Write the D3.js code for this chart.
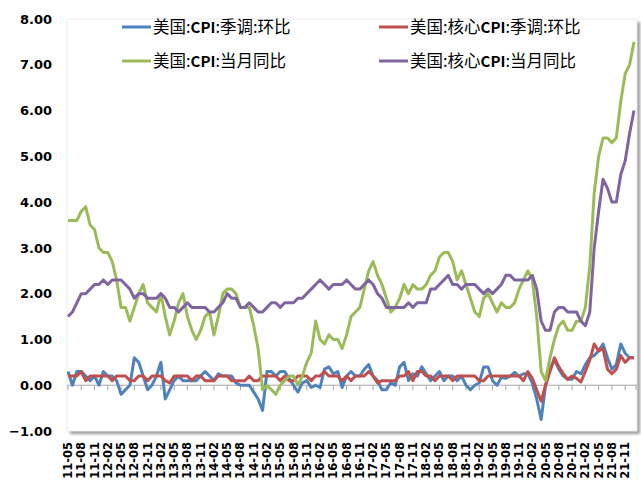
<!DOCTYPE html>
<html lang="zh">
<head>
<meta charset="UTF-8">
<script src="https://d3js.org/d3.v7.min.js"></script>
<style>
  body { margin: 0; background: #fff; }
  svg { display: block; }
  .ylab { font: bold 13px "DejaVu Sans", sans-serif; fill: #000; }
  .xlab { font: bold 11.5px "DejaVu Sans", sans-serif; fill: #000; }
  .leg { font-family: "Noto Sans CJK SC", sans-serif; font-size: 16.5px; fill: #000; }
  .leg .latin { font-weight: bold; font-size: 15px; }
</style>
</head>
<body>
<div id="chart"></div>
<script>
// monthly categories 2011-05 .. 2022-01
var months = d3.timeMonth.range(new Date(2011, 4, 1), new Date(2022, 1, 1)).map(d3.timeFormat("%y-%m"));

// 美国:CPI:季调:环比
var cpiMom = [
  0.3, 0.0, 0.3, 0.3, 0.2, 0.1, 0.2, 0.0,
  0.3, 0.2, 0.2, 0.1, -0.2, -0.1, 0.0, 0.6, 0.5, 0.2, -0.1, 0.0,
  0.2, 0.5, -0.3, -0.1, 0.1, 0.2, 0.1, 0.1, 0.1, 0.1, 0.2, 0.3,
  0.2, 0.1, 0.25, 0.2, 0.2, 0.2, 0.05, 0.0, 0.0, 0.0, -0.15, -0.3,
  -0.55, 0.3, 0.3, 0.2, 0.3, 0.3, 0.15, 0.0, -0.15, 0.05, 0.1, -0.05,
  0.0, -0.05, 0.35, 0.4, 0.25, 0.3, -0.05, 0.2, 0.3, 0.2, 0.2, 0.35,
  0.45, 0.2, 0.1, -0.1, -0.1, 0.05, 0.0, 0.4, 0.5, 0.1, 0.25, 0.2,
  0.4, 0.25, 0.1, 0.2, 0.3, 0.1, 0.2, 0.2, 0.1, 0.2, 0.0, -0.1,
  0.0, 0.05, 0.4, 0.4, 0.1, 0.0, 0.17, 0.15, 0.2, 0.28, 0.2, 0.25,
  0.25, 0.05, -0.3, -0.75, 0.0, 0.35, 0.55, 0.35, 0.2, 0.13, 0.13, 0.3,
  0.25, 0.45, 0.6, 0.65, 0.75, 0.9, 0.6, 0.35, 0.45, 0.9, 0.7, 0.6,
  0.6
];

// 美国:核心CPI:季调:环比
var coreMom = [
  0.2, 0.2, 0.2, 0.3, 0.1, 0.2, 0.2, 0.2,
  0.2, 0.2, 0.1, 0.2, 0.2, 0.2, 0.1, 0.1, 0.2, 0.2, 0.1, 0.2,
  0.2, 0.2, 0.1, 0.05, 0.2, 0.2, 0.2, 0.2, 0.1, 0.2, 0.2, 0.1,
  0.1, 0.1, 0.2, 0.2, 0.2, 0.1, 0.1, 0.1, 0.1, 0.2, 0.1, 0.1,
  0.2, 0.2, 0.2, 0.2, 0.1, 0.2, 0.1, 0.1, 0.2, 0.2, 0.2, 0.1,
  0.2, 0.2, 0.3, 0.2, 0.2, 0.2, 0.1, 0.2, 0.1, 0.2, 0.2, 0.2,
  0.3, 0.2, 0.05, 0.1, 0.1, 0.1, 0.1, 0.2, 0.2, 0.3, 0.1, 0.3,
  0.3, 0.2, 0.2, 0.1, 0.2, 0.2, 0.2, 0.1, 0.2, 0.2, 0.2, 0.2,
  0.2, 0.1, 0.1, 0.2, 0.2, 0.2, 0.2, 0.2, 0.2, 0.2, 0.2, 0.1,
  0.3, 0.15, -0.1, -0.35, 0.0, 0.3, 0.6, 0.4, 0.25, 0.13, 0.2, 0.15,
  0.07, 0.3, 0.55, 0.9, 0.75, 0.8, 0.35, 0.25, 0.35, 0.65, 0.5, 0.6,
  0.6
];

// 美国:CPI:当月同比
var cpiYoy = [
  3.6, 3.6, 3.6, 3.8, 3.9, 3.5, 3.4, 3.0,
  2.9, 2.9, 2.7, 2.3, 1.7, 1.7, 1.4, 1.7, 2.0, 2.2, 1.8, 1.7,
  1.6, 2.0, 1.5, 1.1, 1.4, 1.8, 2.0, 1.5, 1.2, 1.0, 1.2, 1.5,
  1.6, 1.1, 1.5, 2.0, 2.1, 2.1, 2.0, 1.7, 1.7, 1.7, 1.3, 0.8,
  -0.1, 0.0, -0.1, -0.2, 0.0, 0.1, 0.2, 0.2, 0.0, 0.2, 0.5, 0.7,
  1.4, 1.0, 0.9, 1.1, 1.0, 1.0, 0.8, 1.1, 1.5, 1.6, 1.7, 2.1,
  2.5, 2.7, 2.4, 2.2, 1.9, 1.6, 1.7, 1.9, 2.2, 2.0, 2.2, 2.1,
  2.1, 2.2, 2.4, 2.5, 2.8, 2.9, 2.9, 2.7, 2.3, 2.5, 2.2, 1.9,
  1.6, 1.5, 1.9, 2.0, 1.8, 1.6, 1.8, 1.7, 1.7, 1.8, 2.1, 2.3,
  2.5, 2.3, 1.5, 0.3, 0.1, 0.6, 1.0, 1.3, 1.4, 1.2, 1.2, 1.4,
  1.4, 1.7, 2.6, 4.2, 5.0, 5.4, 5.4, 5.3, 5.4, 6.2, 6.8, 7.0,
  7.5
];

// 美国:核心CPI:当月同比
var coreYoy = [
  1.5, 1.6, 1.8, 2.0, 2.0, 2.1, 2.2, 2.2,
  2.3, 2.2, 2.3, 2.3, 2.3, 2.2, 2.1, 1.9, 2.0, 2.0, 1.9, 1.9,
  1.9, 2.0, 1.9, 1.7, 1.7, 1.6, 1.7, 1.8, 1.7, 1.7, 1.7, 1.7,
  1.6, 1.6, 1.7, 1.8, 2.0, 1.9, 1.9, 1.7, 1.7, 1.8, 1.7, 1.6,
  1.6, 1.7, 1.8, 1.8, 1.7, 1.8, 1.8, 1.8, 1.9, 1.9, 2.0, 2.1,
  2.2, 2.3, 2.2, 2.1, 2.2, 2.2, 2.2, 2.3, 2.2, 2.1, 2.1, 2.2,
  2.3, 2.2, 2.0, 1.9, 1.7, 1.7, 1.7, 1.7, 1.7, 1.8, 1.7, 1.8,
  1.8, 1.8, 2.1, 2.1, 2.2, 2.3, 2.4, 2.2, 2.2, 2.1, 2.2, 2.2,
  2.2, 2.1, 2.0, 2.1, 2.0, 2.1, 2.2, 2.4, 2.4, 2.3, 2.3, 2.3,
  2.3, 2.4, 2.1, 1.4, 1.2, 1.2, 1.6, 1.7, 1.7, 1.6, 1.6, 1.6,
  1.4, 1.3, 1.6, 3.0, 3.8, 4.5, 4.3, 4.0, 4.0, 4.6, 4.9, 5.5,
  6.0
];

var yTicks = [8, 7, 6, 5, 4, 3, 2, 1, 0, -1];

var series = [
  { name: "美国:CPI:季调:环比", values: cpiMom, color: "#4F81BD" },
  { name: "美国:核心CPI:季调:环比", values: coreMom, color: "#C0504D" },
  { name: "美国:CPI:当月同比", values: cpiYoy, color: "#9BBB59" },
  { name: "美国:核心CPI:当月同比", values: coreYoy, color: "#8064A2" }
];

var width = 641, height = 483;
var plot = { left: 67, right: 637, top: 19, bottom: 431 };

var svg = d3.select("#chart").append("svg")
  .attr("width", width)
  .attr("height", height);

var defs = svg.append("defs");
defs.append("filter").attr("id", "shadow")
  .attr("x", "-5%").attr("y", "-5%").attr("width", "110%").attr("height", "110%")
  .append("feGaussianBlur").attr("stdDeviation", 1.5);

// plot area with soft shadow
svg.append("rect")
  .attr("x", plot.left + 3).attr("y", plot.top + 3)
  .attr("width", plot.right - plot.left).attr("height", plot.bottom - plot.top)
  .attr("fill", "#9a9a9a")
  .attr("filter", "url(#shadow)");
svg.append("rect")
  .attr("x", plot.left).attr("y", plot.top)
  .attr("width", plot.right - plot.left).attr("height", plot.bottom - plot.top)
  .attr("fill", "#fff")
  .attr("stroke", "#ececec");

var x = d3.scalePoint()
  .domain(months)
  .range([68, 634]);

var y = d3.scaleLinear()
  .domain([-1, 8])
  .range([plot.bottom, plot.top]);

// y labels
svg.append("g").selectAll("text")
  .data(yTicks)
  .enter().append("text")
  .attr("class", "ylab")
  .attr("x", 52)
  .attr("y", function (d) { return y(d); })
  .attr("dy", "0.36em")
  .attr("text-anchor", "end")
  .text(function (d) { return d3.format(".2f")(d); });

// x axis on zero line
var xAxis = svg.append("g");
xAxis.append("line")
  .attr("x1", plot.left).attr("x2", plot.right)
  .attr("y1", y(0)).attr("y2", y(0))
  .attr("stroke", "#a6a6a6").attr("stroke-width", 1);

var tickMonths = months.filter(function (d, i) { return i % 3 === 0; });
xAxis.selectAll("line.tick")
  .data(tickMonths)
  .enter().append("line")
  .attr("class", "tick")
  .attr("x1", function (d) { return x(d); })
  .attr("x2", function (d) { return x(d); })
  .attr("y1", y(0)).attr("y2", y(0) + 5)
  .attr("stroke", "#a6a6a6");

xAxis.append("line")
  .attr("x1", plot.right - 1).attr("x2", plot.right - 1)
  .attr("y1", y(0)).attr("y2", y(0) + 5)
  .attr("stroke", "#a6a6a6");

// rotated category labels
svg.append("g").selectAll("text")
  .data(tickMonths)
  .enter().append("text")
  .attr("class", "xlab")
  .attr("text-anchor", "end")
  .attr("transform", function (d) {
    return "translate(" + (x(d) + 4) + "," + 442 + ") rotate(-90)";
  })
  .text(function (d) { return d; });

// lines
var line = d3.line()
  .x(function (d, i) { return x(months[i]); })
  .y(function (d) { return y(d); });

svg.append("g").selectAll("path")
  .data(series)
  .enter().append("path")
  .attr("d", function (s) { return line(s.values); })
  .attr("fill", "none")
  .attr("stroke", function (s) { return s.color; })
  .attr("stroke-width", 3)
  .attr("stroke-linejoin", "round");

// legend (2 x 2)
var legPos = [
  { x: 122, y: 27 }, { x: 379, y: 27 },
  { x: 122, y: 61 }, { x: 379, y: 61 }
];
var leg = svg.append("g").selectAll("g")
  .data(series)
  .enter().append("g")
  .attr("transform", function (d, i) { return "translate(" + legPos[i].x + "," + legPos[i].y + ")"; });

leg.append("line")
  .attr("x1", 0).attr("x2", 29)
  .attr("stroke", function (d) { return d.color; })
  .attr("stroke-width", 3);

var legText = leg.append("text")
  .attr("class", "leg")
  .attr("x", 31)
  .attr("dy", "0.36em");

// "CPI" is set in bold like the original legend
legText.each(function (d) {
  var t = d3.select(this);
  d.name.split(/(CPI)/).forEach(function (part) {
    if (!part) return;
    t.append("tspan")
      .attr("class", part === "CPI" ? "latin" : null)
      .text(part);
  });
});
</script>
</body>
</html>
